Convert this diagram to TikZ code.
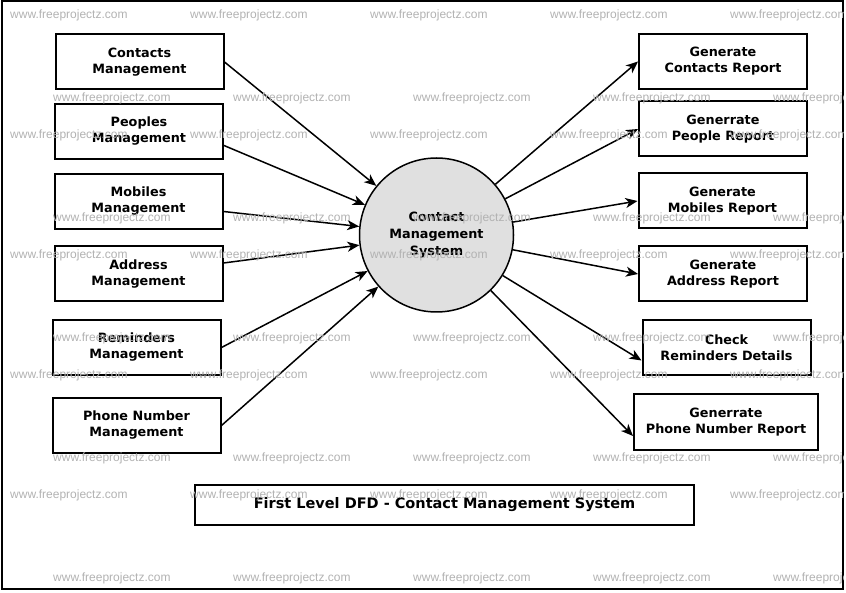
\documentclass[tikz,border=0pt]{standalone}
\usepackage{fontspec}
\setmainfont{DejaVu Sans}
\newfontfamily\markfont{Liberation Sans}
\usetikzlibrary{shapes,arrows.meta}
\definecolor{bubblecolor}{RGB}{224,224,224}
\definecolor{markcolor}{RGB}{178,178,178}

\begin{document}
\begin{tikzpicture}[
    x=1pt, y=-1pt,
    proc/.style={rectangle, draw=black, line width=2pt, fill=white, minimum width=168pt, minimum height=55pt, inner sep=0pt, align=center, font=\fontsize{12.8}{16}\selectfont\bfseries},
    bubble/.style={circle, draw=black, line width=1.5pt, fill=bubblecolor, minimum size=154pt, inner sep=0pt, align=center, font=\fontsize{12.8}{17}\selectfont\bfseries},
    flow/.style={-{Stealth[length=12pt,width=10pt,inset=3.5pt]}, line width=1.5pt},
    wmark/.style={anchor=west, inner sep=0pt, text=markcolor, font=\markfont\fontsize{12}{12}\selectfont}
]
\useasboundingbox (0,0) rectangle (846,593);
\draw[line width=2pt] (1.5,1.5) rectangle (843,589);

% Process
\node[bubble] (cms) at (436.5,235) {Contact\\Management\\System};

% Left side
\node[proc] (contacts) at (139.5,62) {Contacts\\Management};
\node[proc] (peoples) at (139,131.5) {Peoples\\Management};
\node[proc] (mobiles) at (138.5,201.5) {Mobiles\\Management};
\node[proc] (address) at (138.5,274) {Address\\Management};
\node[proc] (reminders) at (136.5,347.5) {Reminders\\Management};
\node[proc] (phone) at (136.5,425.5) {Phone Number\\Management};

% Right side
\node[proc] (rcontacts) at (723,61.5) {Generate\\Contacts Report};
\node[proc] (rpeople) at (723,129) {Generrate\\People Report};
\node[proc] (rmobiles) at (722.5,201) {Generate\\Mobiles Report};
\node[proc] (raddress) at (723,274) {Generate\\Address Report};
\node[proc] (rcheck) at (726.5,347.5) {Check\\Reminders Details};
\node[proc, minimum width=184pt] (rphone) at (726,422) {Generrate\\Phone Number Report};

% Title
\node[proc, minimum width=499pt, minimum height=40pt, font=\fontsize{14.5}{16}\selectfont\bfseries] (title) at (444.5,505) {First Level DFD - Contact Management System};

% Flows in
\draw[flow] (contacts.east) -- (cms);
\draw[flow] ([yshift=-14pt]peoples.east) -- (cms);
\draw[flow] ([yshift=-10pt]mobiles.east) -- (cms);
\draw[flow] ([yshift=11pt]address.east) -- (cms);
\draw[flow] (reminders.east) -- (cms);
\draw[flow] (phone.east) -- (cms);

% Flows out
\draw[flow] (cms) -- (rcontacts.west);
\draw[flow] (cms) -- (rpeople.west);
\draw[flow] (cms) -- (rmobiles.west);
\draw[flow] (cms) -- (raddress.west);
\draw[flow] (cms) -- ([yshift=-13pt]rcheck.west);
\draw[flow] (cms) -- ([yshift=-14pt]rphone.west);

% Watermarks
\begin{scope}
\clip (1.5,1.5) rectangle (843,589);
\foreach \y in {15,135,255,375,495}
  \foreach \x in {10,190,370,550,730}
    \node[wmark] (wa-\x-\y) at (\x,\y) {www.freeprojectz.com};
\foreach \y in {98,218,338,458,578}
  \foreach \x in {53,233,413,593,773}
    \node[wmark] (wb-\x-\y) at (\x,\y) {www.freeprojectz.com};
\end{scope}

\end{tikzpicture}
\end{document}
